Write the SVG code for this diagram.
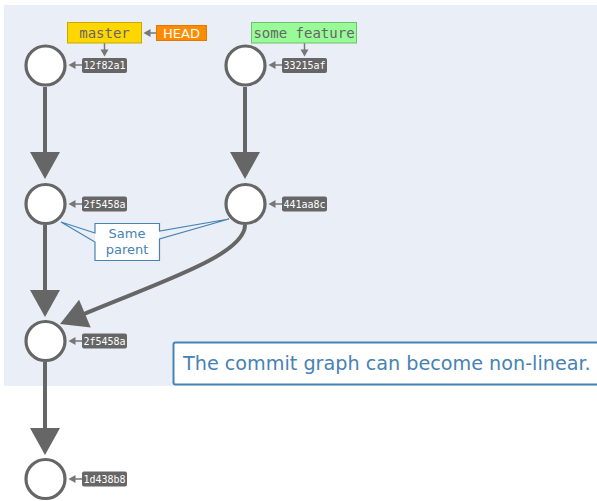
<svg xmlns="http://www.w3.org/2000/svg" width="597" height="501" viewBox="0 0 597 501">
  <defs>
    <marker id="big" markerUnits="userSpaceOnUse" markerWidth="28" markerHeight="30" refX="1" refY="15" orient="auto" overflow="visible">
      <path d="M0,0 L27,15 L0,30 z" fill="#666"/>
    </marker>
    <marker id="small" markerUnits="userSpaceOnUse" markerWidth="7" markerHeight="8" refX="0.5" refY="4" orient="auto" overflow="visible">
      <path d="M0,0 L7,4 L0,8 z" fill="#777"/>
    </marker>
    <style>
      .commit { fill: #fff; stroke: #666; stroke-width: 3.2; }
      .edge { fill: none; stroke: #666; stroke-width: 4; marker-end: url(#big); }
      .ptr { fill: none; stroke: #777; stroke-width: 1.5; marker-end: url(#small); }
      .hash rect { fill: #666; }
      .hash text { font-family: "DejaVu Sans Mono", monospace; font-size: 10px; fill: #fff; text-anchor: middle; }
      .branch text { font-family: "DejaVu Sans Mono", monospace; font-size: 14px; fill: #666; text-anchor: middle; }
      .note { fill: #fff; stroke: #4682b4; }
      .note-text { font-family: "DejaVu Sans", sans-serif; fill: #4682b4; }
    </style>
  </defs>

  <!-- repository area -->
  <rect x="4" y="5" width="593" height="381" fill="#eaeff7"/>

  <!-- history edges -->
  <g id="connectors">
    <line class="edge" x1="45" y1="87" x2="45" y2="153"/>
    <line class="edge" x1="245" y1="87" x2="245" y2="153"/>
    <line class="edge" x1="45" y1="225" x2="45" y2="291"/>
    <path class="edge" d="M245,225 C245,255 160,282 84,314"/>
    <line class="edge" x1="45" y1="362" x2="45" y2="429"/>

    <line class="ptr" x1="82" y1="65" x2="75" y2="65"/>
    <line class="ptr" x1="282" y1="65" x2="275" y2="65"/>
    <line class="ptr" x1="82" y1="204" x2="75" y2="204"/>
    <line class="ptr" x1="282" y1="204" x2="275" y2="204"/>
    <line class="ptr" x1="82" y1="341" x2="75" y2="341"/>
    <line class="ptr" x1="82" y1="479" x2="75" y2="479"/>
    <line class="ptr" x1="104.5" y1="43" x2="104.5" y2="50"/>
    <line class="ptr" x1="304.5" y1="43" x2="304.5" y2="50"/>
    <line class="ptr" x1="156" y1="33" x2="150" y2="33"/>
  </g>

  <g id="commit-12f82a1">
    <circle class="commit" cx="45.5" cy="65.5" r="19.5"/>
    <g class="hash"><rect x="82" y="58" width="45" height="15" rx="2"/><text x="104.5" y="69">12f82a1</text></g>
  </g>
  <g id="commit-33215af">
    <circle class="commit" cx="245.5" cy="65.5" r="19.5"/>
    <g class="hash"><rect x="282" y="58" width="45" height="15" rx="2"/><text x="304.5" y="69">33215af</text></g>
  </g>
  <g id="commit-2f5458a-left">
    <circle class="commit" cx="45.5" cy="204" r="19.5"/>
    <g class="hash"><rect x="82" y="196.5" width="45" height="15" rx="2"/><text x="104.5" y="207.5">2f5458a</text></g>
  </g>
  <g id="commit-441aa8c">
    <circle class="commit" cx="245.5" cy="204" r="19.5"/>
    <g class="hash"><rect x="282" y="196.5" width="45" height="15" rx="2"/><text x="304.5" y="207.5">441aa8c</text></g>
  </g>
  <g id="commit-2f5458a-merge">
    <circle class="commit" cx="45.5" cy="341" r="19.5"/>
    <g class="hash"><rect x="82" y="333.5" width="45" height="15" rx="2"/><text x="104.5" y="344.5">2f5458a</text></g>
  </g>
  <g id="commit-1d438b8">
    <circle class="commit" cx="45.5" cy="479" r="19.5"/>
    <g class="hash"><rect x="82" y="471.5" width="45" height="15" rx="2"/><text x="104.5" y="482.5">1d438b8</text></g>
  </g>

  <g id="branch-master" class="branch">
    <rect x="67.5" y="22.5" width="74" height="20.5" fill="#ffd700" stroke="#c9a800" stroke-width="1"/>
    <text x="104.5" y="38">master</text>
  </g>
  <g id="branch-some-feature" class="branch">
    <rect x="251.5" y="22.5" width="105" height="20.5" fill="#98fb98" stroke="#6fc06f" stroke-width="1"/>
    <text x="304" y="38">some feature</text>
  </g>
  <g id="head">
    <rect x="156.5" y="25.5" width="50" height="15" fill="#ff8c00" stroke="#e07a00" stroke-width="1"/>
    <text x="181.5" y="37.5" font-family="DejaVu Sans, sans-serif" font-size="13" fill="#fff" text-anchor="middle">HEAD</text>
  </g>

  <!-- callout pointing at both parents -->
  <g id="callout-same-parent">
    <rect x="95" y="223.5" width="64.5" height="37" fill="#fff"/>
    <path d="M95,233 L61,222 L95,242 L95,260.5 L159.5,260.5 L159.5,239 L229,219 L159.5,231 L159.5,223.5 L95,223.5 Z" fill="none" stroke="#4682b4" stroke-width="1.2" stroke-linejoin="miter"/>
    <text class="note-text" x="127" y="238" font-size="13" text-anchor="middle">Same</text>
    <text class="note-text" x="127" y="253.5" font-size="13" text-anchor="middle">parent</text>
  </g>

  <g id="caption">
    <rect class="note" x="173.5" y="342.5" width="430" height="42" rx="2" stroke-width="2"/>
    <text class="note-text" x="183" y="370" font-size="19.2">The commit graph can become non-linear.</text>
  </g>
</svg>
